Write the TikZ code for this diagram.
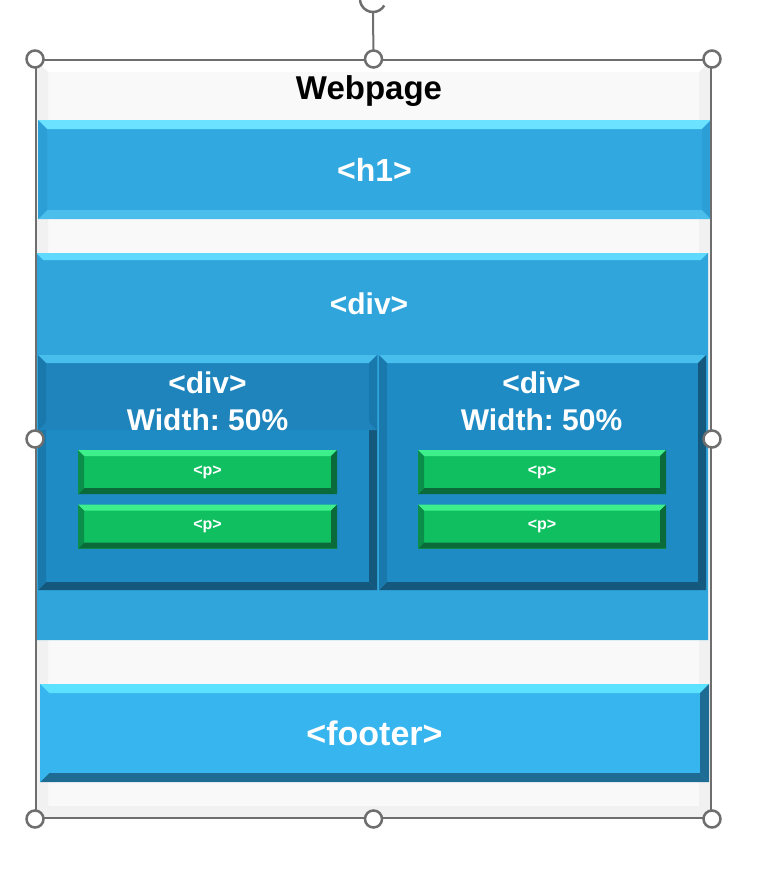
\documentclass[tikz,border=0pt]{standalone}
\usepackage{fontspec}
\setmainfont{Liberation Sans}
\usetikzlibrary{calc}
\definecolor{pagebg}{HTML}{F9F9F9}
\definecolor{pageside}{HTML}{F1F1F1}
\definecolor{framegray}{HTML}{6E6E6E}
\definecolor{hfill}{HTML}{31A8DF}
\definecolor{htop}{HTML}{6BE2FF}
\definecolor{hbot}{HTML}{4CBEEC}
\definecolor{hside}{HTML}{2B9FD6}
\definecolor{dfill}{HTML}{2FA5DB}
\definecolor{dtop}{HTML}{5FD9FF}
\definecolor{ifill}{HTML}{1F8BC4}
\definecolor{itop}{HTML}{48BEEC}
\definecolor{ibot}{HTML}{15587D}
\definecolor{iside}{HTML}{1A79AC}
\definecolor{headfill}{HTML}{1E84BB}
\definecolor{pfill}{HTML}{10C060}
\definecolor{ptop}{HTML}{3EF08C}
\definecolor{pbot}{HTML}{0A6A3A}
\definecolor{pside}{HTML}{0B8E4A}
\definecolor{ffill}{HTML}{36B5EE}
\definecolor{ftop}{HTML}{5CE2FF}
\definecolor{fdark}{HTML}{1E6C94}

\begin{document}
\begin{tikzpicture}[x=1pt,y=-1pt]
  \tikzset{bevel/.style n args={6}{fill=#1, draw=none, inner sep=0pt, path picture={
      \fill[#2] let \p1=(path picture bounding box.north west), \p2=(path picture bounding box.south east) in
        (\x1,\y1) -- (\x2,\y1) -- (\x2-#6,\y1-#6) -- (\x1+#6,\y1-#6) -- cycle;
      \fill[#3] let \p1=(path picture bounding box.north west), \p2=(path picture bounding box.south east) in
        (\x1,\y2) -- (\x2,\y2) -- (\x2-#6,\y2+#6) -- (\x1+#6,\y2+#6) -- cycle;
      \fill[#4] let \p1=(path picture bounding box.north west), \p2=(path picture bounding box.south east) in
        (\x1,\y1) -- (\x1+#6,\y1-#6) -- (\x1+#6,\y2+#6) -- (\x1,\y2) -- cycle;
      \fill[#5] let \p1=(path picture bounding box.north west), \p2=(path picture bounding box.south east) in
        (\x2,\y1) -- (\x2-#6,\y1-#6) -- (\x2-#6,\y2+#6) -- (\x2,\y2) -- cycle;
    }},
    label text/.style = {text=white, font=\bfseries\fontsize{#1}{#1}\selectfont},
    bar/.style = {bevel={hfill}{htop}{hbot}{hside}{hside}{9pt}, label text=32},
    outerdiv/.style = {bevel={dfill}{dtop}{dfill}{dfill}{dfill}{7pt}},
    innerdiv/.style = {bevel={ifill}{itop}{ibot}{iside}{ibot}{8pt}},
    innerhead/.style = {bevel={headfill}{itop}{headfill}{iside}{iside}{8pt}},
    pbox/.style = {bevel={pfill}{ptop}{pbot}{pside}{pbot}{6pt}, minimum height=44pt, label text=16},
    footbar/.style = {bevel={ffill}{ftop}{fdark}{ffill}{fdark}{9pt}, label text=34},
    divtxt/.style = {align=center, text=white, font=\bfseries\fontsize{30}{37}\selectfont},
    handle/.style = {circle, draw=framegray, fill=white, line width=2.5pt, minimum size=17pt, inner sep=0pt},
    handle line/.style = {draw=framegray, line width=2pt}
  }
  \useasboundingbox (0,0) rectangle (761,873);

  % page background
  \node[bevel={pagebg}{white}{pageside}{pageside}{pageside}{12pt}, minimum width=675pt, minimum height=758pt] (page) at (373.5,439) {};
  \node[font=\bfseries\fontsize{33}{33}\selectfont] (title) at (369,91) {Webpage};

  % header
  \node[bar, minimum width=673pt, minimum height=99pt] (h1) at (374.5,169.5) {<h1>};

  % div with two halves
  \node[outerdiv, minimum width=672pt, minimum height=387pt] (div) at (372,446.5) {};
  \node[label text=30] (divtext) at (369,304) {<div>};
  \node[innerdiv, minimum width=339pt, minimum height=235pt] (ldiv) at (207.5,472.5) {};
  \node[innerhead, minimum width=339pt, minimum height=75pt] (lhead) at (207.5,392.5) {};
  \node[innerdiv, minimum width=327pt, minimum height=235pt] (rdiv) at (542.5,472.5) {};
  \node[divtxt] (ltext) at (207.5,401) {<div>\\Width:\ 50\%};
  \node[divtxt] (rtext) at (541.5,401) {<div>\\Width:\ 50\%};
  \foreach \n/\x/\y/\w in {lp1/207.5/472/259, lp2/207.5/526.5/259, rp1/542/472/248, rp2/542/526.5/248}
    \node[pbox, minimum width=\w pt] (\n) at (\x,\y) {<p>};

  % footer
  \node[footbar, minimum width=669pt, minimum height=98pt] (foot) at (374.5,733) {<footer>};

  % selection frame
  \node[handle line, fill=none, minimum width=675pt, minimum height=758pt, inner sep=0pt] (frame) at (373.5,439) {};
  \coordinate (rot) at (373,12);
  \draw[handle line] (frame.north) -- (rot);
  \draw[handle line, line width=2.5pt] (rot) arc[start angle=90, end angle=30, radius=13];
  \draw[handle line, line width=2.5pt] (rot) arc[start angle=90, end angle=200, radius=13];
  \foreach \a [count=\i] in {north west, north, north east, west, east, south west, south, south east}
    \node[handle] (hd\i) at (frame.\a) {};

\end{tikzpicture}
\end{document}
